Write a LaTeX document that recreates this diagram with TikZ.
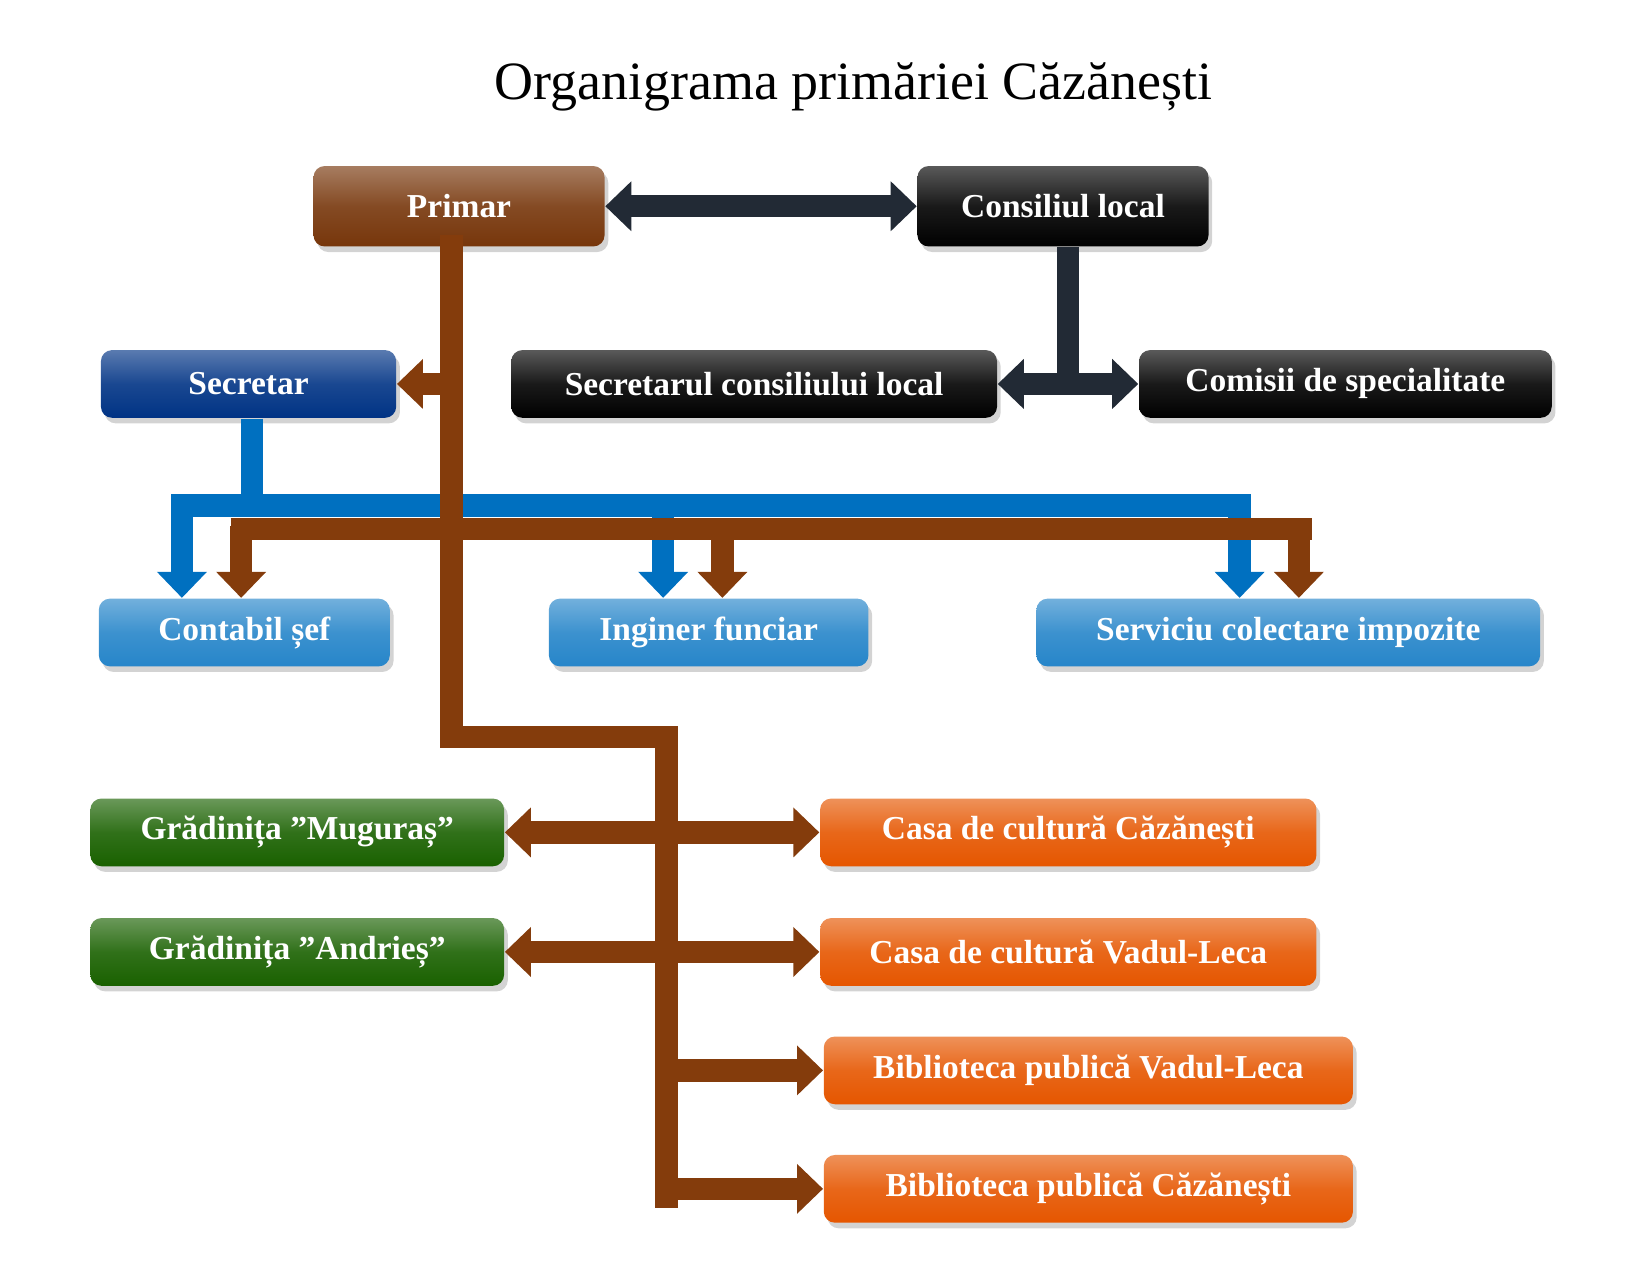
\documentclass[tikz,border=0pt]{standalone}
\usepackage{fontspec}
\setmainfont{Liberation Serif}
\usetikzlibrary{calc,arrows.meta,shadows}
\definecolor{brn}{HTML}{843C0C}
\definecolor{navy}{HTML}{222A35}
\definecolor{bluel}{HTML}{0070C0}
\begin{document}
\begin{tikzpicture}[x=0.01cm,y=-0.01cm,
  box/.style={draw=none,rounded corners=3pt,text=white,font=\bfseries\fontsize{9}{10}\selectfont,
    inner sep=0pt,drop shadow={opacity=0.35,shadow xshift=1pt,shadow yshift=-1.5pt}},
  pbox/.style={box,top color=#1!65,bottom color=#1,middle color=#1!90},
  link/.style={line width=6pt,draw=#1,-{Triangle[length=7pt,width=13pt]}},
  dlink/.style={line width=6pt,draw=#1,{Triangle[length=7pt,width=13pt]}-{Triangle[length=7pt,width=13pt]}},
  bar/.style={line width=6pt,draw=#1}]
\useasboundingbox (0,0) rectangle (1560,1206);
% Title
\node (title) at (807,82) {\fontsize{14.5}{16}\selectfont Organigrama primăriei Căzănești};
% Top level
\node[pbox=brn!90!black,minimum width=2.75cm,minimum height=0.76cm] (primar) at (434,195) {Primar};
\node[pbox=black,minimum width=2.75cm,minimum height=0.76cm] (consiliu) at (1005,195) {Consiliul local};
\node[pbox=blue!40!black!80!cyan,minimum width=2.79cm,minimum height=0.64cm] (secretar) at (235,363) {Secretar};
\node[pbox=black,minimum width=4.59cm,minimum height=0.64cm] (secons) at (713,363) {Secretarul consiliului local};
\node[pbox=black,minimum width=3.9cm,minimum height=0.64cm] (comisii) at (1272,363) {Comisii de specialitate};
% Services
\node[pbox=bluel!85!white,minimum width=2.75cm,minimum height=0.64cm] (contabil) at (231,598) {Contabil șef};
\node[pbox=bluel!85!white,minimum width=3.02cm,minimum height=0.64cm] (inginer) at (670,598) {Inginer funciar};
\node[pbox=bluel!85!white,minimum width=4.76cm,minimum height=0.64cm] (impozite) at (1218,598) {Serviciu colectare impozite};
% Institutions
\node[pbox=green!35!black!80!olive,minimum width=3.91cm,minimum height=0.64cm] (muguras) at (281,787) {Grădinița ”Muguraș”};
\node[pbox=green!35!black!80!olive,minimum width=3.91cm,minimum height=0.64cm] (andries) at (281,900) {Grădinița ”Andrieș”};
\node[pbox=orange!75!red!90!black,minimum width=4.69cm,minimum height=0.64cm] (casac) at (1010,787) {Casa de cultură Căzănești};
\node[pbox=orange!75!red!90!black,minimum width=4.69cm,minimum height=0.64cm] (casav) at (1010,900) {Casa de cultură Vadul-Leca};
\node[pbox=orange!75!red!90!black,minimum width=5.0cm,minimum height=0.64cm] (bibv) at (1029,1012) {Biblioteca publică Vadul-Leca};
\node[pbox=orange!75!red!90!black,minimum width=5.0cm,minimum height=0.64cm] (bibc) at (1029,1124) {Biblioteca publică Căzănești};
% Council links
\draw[dlink=navy] (primar) -- (consiliu);
\coordinate (cj) at (1010,363);
\draw[bar=navy] (consiliu.south -| cj) -- (cj);
\draw[dlink=navy] (secons) -- (comisii);
% Secretary (blue) bus
\coordinate (sj) at (238,478);
\draw[bar=bluel] (secretar.south -| sj) -- (sj);
\draw[bar=bluel] (162,478) -- (1183,478);
\foreach \xx/\tg in {172/contabil,627/inginer,1172/impozite}
  \draw[link=bluel] (\xx,475) -- (\tg.north -| \xx,0);
% Mayor (brown) trunk and bus
\coordinate (pt) at (427,233);
\coordinate (pk) at (427,697);
\coordinate (lk) at (630,697);
\coordinate (lb) at (630,1132);
\draw[bar=brn,line cap=rect] (pt) -- (pk) -- (lk) -- (lb);
\draw[link=brn] (427,363) -- (secretar.east);
\draw[bar=brn] (218,500) -- (1240,500);
\foreach \xx/\tg in {228/contabil,683/inginer,1228/impozite}
  \draw[link=brn] (\xx,497) -- (\tg.north -| \xx,0);
% Institution links
\draw[dlink=brn] (muguras) -- (casac);
\draw[dlink=brn] (andries) -- (casav);
\draw[link=brn] (bibv.west -| lk) -- (bibv);
\draw[link=brn] (bibc.west -| lk) -- (bibc);
\end{tikzpicture}
\end{document}
